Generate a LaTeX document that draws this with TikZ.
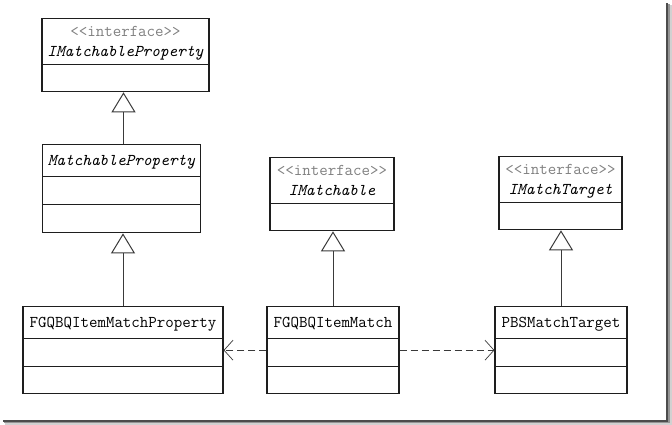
\documentclass[tikz,border=0pt]{standalone}
\usepackage{tikz}
\usetikzlibrary{arrows.meta,shapes.multipart,positioning,calc}
\definecolor{cStereo}{HTML}{808080}
\definecolor{cEdge}{HTML}{1E1E1E}
\definecolor{cLink}{HTML}{3A3A3A}
\tikzset{
  umlbox/.style={rectangle split,draw=cEdge,line width=1.1pt,anchor=north,
      inner xsep=0pt,inner ysep=0pt,align=center,text=black,
      font=\ttfamily\fontsize{16.5}{20}\selectfont},
  umlcls/.style={umlbox,rectangle split parts=3,text width=#1},
  umlifc/.style={umlbox,rectangle split parts=2,text width=#1},
  inh/.style={-{Triangle[open,length=20pt,width=24pt,line width=1pt]},
      line width=0.8pt,draw=cLink},
  dep/.style={-{Straight Barb[length=9pt,width=20pt,line width=0.7pt]},
      line width=0.8pt,draw=cLink,dash pattern=on 7pt off 4pt},
}
\newcommand{\stereo}{\rule{0pt}{17pt}\textcolor{cStereo}{<<interface>>}}
\newcommand{\ifcend}{\rule[-8pt]{0pt}{8pt}}
\newcommand{\clshead}[1]{\rule[-10.5pt]{0pt}{31pt}#1}
\newcommand{\emptyrow}[1]{\rule[-16pt]{0pt}{#1pt}}

\begin{document}
\begin{tikzpicture}[x=1pt,y=-1pt]
  \useasboundingbox (0,0) rectangle (672,425);

  % interfaces
  \node[umlifc=167pt] (ipr) at (125.5,18)
   {\stereo\\\textit{IMatchableProperty}\ifcend\nodepart{two}\rule{0pt}{26pt}};
  \node[umlifc=124pt] (imt) at (332,157)
   {\stereo\\\textit{IMatchable}\ifcend\nodepart{two}\rule{0pt}{26pt}};
  \node[umlifc=123pt] (itg) at (560.5,156)
   {\stereo\\\textit{IMatchTarget}\ifcend\nodepart{two}\rule{0pt}{26pt}};

  % classes
  \node[umlcls=158pt] (mpr) at (121.5,144)
   {\clshead{\textit{MatchableProperty}}\nodepart{two}\emptyrow{27}
    \nodepart{three}\rule{0pt}{27pt}};
  \node[umlcls=200pt] (fpr) at (123,306)
   {\clshead{FGQBQItemMatchProperty}\nodepart{two}\emptyrow{27}
    \nodepart{three}\rule{0pt}{26pt}};
  \node[umlcls=132pt] (fmt) at (333,306)
   {\clshead{FGQBQItemMatch}\nodepart{two}\emptyrow{27}
    \nodepart{three}\rule{0pt}{26pt}};
  \node[umlcls=132pt] (pbs) at (561,306)
   {\clshead{PBSMatchTarget}\nodepart{two}\emptyrow{27}
    \nodepart{three}\rule{0pt}{26pt}};

  % generalisation
  \draw[inh] ([xshift=2pt]mpr.north) -- ([xshift=2pt]mpr.north |- ipr.south);
  \draw[inh] (fpr.north) -- (fpr.north |- mpr.south);
  \draw[inh] (fmt.north) -- (fmt.north |- imt.south);
  \draw[inh] (pbs.north) -- (pbs.north |- itg.south);

  % dependencies
  \draw[dep] ([yshift=2.5pt]fmt.two west) -- ([yshift=2.5pt]fmt.two west -| fpr.east);
  \draw[dep] ([yshift=2.5pt]fmt.two east) -- ([yshift=2.5pt]fmt.two east -| pbs.west);

  % page shadow
  \fill[black!70] (666,3) rectangle (668,421);
  \fill[black!42] (668,4) rectangle (670,423);
  \fill[black!18] (670,5) rectangle (672,425);
  \fill[black!70] (3,419.5) rectangle (668,421.5);
  \fill[black!42] (4,421.5) rectangle (670,423);
  \fill[black!18] (5,423) rectangle (672,425);
\end{tikzpicture}
\end{document}
